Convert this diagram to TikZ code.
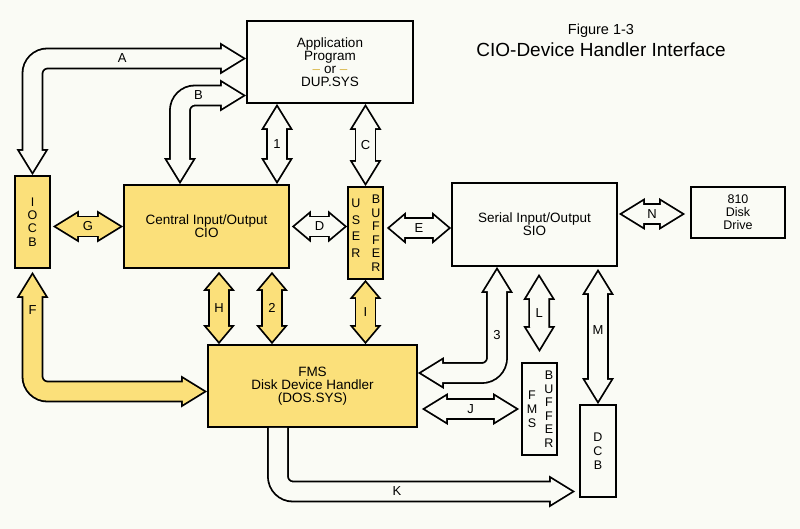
\documentclass[tikz,border=0pt]{standalone}
\usepackage{fontspec}
\setmainfont{Liberation Sans}
\usepackage{xcolor}
\usetikzlibrary{arrows.meta,calc}

\definecolor{paper}{HTML}{FAFBF5}
\definecolor{cioyellow}{HTML}{FBE07A}
\definecolor{dashyellow}{HTML}{D9B84C}

\tikzset{
  headout/.tip={Triangle[length=26pt, width=32pt, line width=0pt]},
  headin/.tip={Triangle[length=20.77pt, width=25.56pt, line width=0pt]},
  shortout/.tip={Triangle[length=19pt, width=32pt, line width=0pt]},
  shortin/.tip={Triangle[length=14.4pt, width=24.25pt, line width=0pt]},
}

\begin{document}
\begin{tikzpicture}[x=1pt, y=-1pt,
  box/.style={rectangle, draw, line width=1.8pt, fill=paper, align=center, inner sep=0pt, font=\fontsize{13.5}{13}\selectfont},
  ybox/.style={box, fill=cioyellow},
  letters/.style={align=center, inner sep=0pt, font=\fontsize{12.5}{13.5}\selectfont},
  lab/.style={inner sep=0pt, font=\fontsize{13}{13}\selectfont},
  fatboth/.style={line width=18.2pt, arrows={headin-headin}, shorten <=3.44pt, shorten >=3.44pt,
    preaction={draw=black, line width=21.8pt, arrows={headout-headout}, shorten <=0pt, shorten >=0pt}},
  fatshort/.style={line width=18.2pt, arrows={shortin-shortin}, shorten <=2.8pt, shorten >=2.8pt,
    preaction={draw=black, line width=21.8pt, arrows={shortout-shortout}, shorten <=0pt, shorten >=0pt}},
  fatend/.style={line width=18.2pt, arrows={-headin}, shorten >=3.44pt,
    preaction={draw=black, line width=21.8pt, arrows={-headout}, shorten >=0pt}},
  hollow/.style={draw=paper},
  yfill/.style={draw=cioyellow},
  roundbend/.style={rounded corners=15pt}
]

\useasboundingbox (0,0) rectangle (800,529);
\fill[paper] (0,0) rectangle (800,529);

\node[font=\fontsize{14.5}{15}\selectfont] (fig) at (601,31) {Figure 1-3};
\node[font=\fontsize{19}{20}\selectfont] (title) at (601,50) {CIO-Device Handler Interface};

\node[box, minimum width=166pt, minimum height=82pt] (app) at (330,62) {%
Application\\Program\\{\color{dashyellow}--} or {\color{dashyellow}--}\\DUP.SYS};

\node[ybox, minimum width=35pt, minimum height=92pt, font=\fontsize{12.5}{13.3}\selectfont] (iocb) at (32.5,222) {I\\O\\C\\B};

\node[ybox, minimum width=165pt, minimum height=83pt] (cio) at (206.5,226.5) {Central Input/Output\\CIO};

\node[ybox, minimum width=35pt, minimum height=92pt] (ubuf) at (365.5,233) {};
\node[letters, font=\fontsize{12.5}{16.5}\selectfont] (ubufL) at ($(ubuf.center)+(-9.5,-5)$) {U\\S\\E\\R};
\node[letters] (ubufR) at ($(ubuf.center)+(10.5,0)$) {B\\U\\F\\F\\E\\R};

\node[box, minimum width=165pt, minimum height=83pt] (sio) at (534.5,224.5) {Serial Input/Output\\SIO};

\node[box, minimum width=94pt, minimum height=51pt, font=\fontsize{12.5}{13}\selectfont] (drive) at (738,212.5) {810\\Disk\\Drive};

\node[ybox, minimum width=209pt, minimum height=82pt] (fms) at (312.5,386) {FMS\\Disk Device Handler\\(DOS.SYS)};

\node[box, minimum width=35pt, minimum height=92pt] (fbuf) at (539.5,409) {};
\node[letters, font=\fontsize{12.5}{14}\selectfont] (fbufL) at ($(fbuf.center)+(-7.5,0)$) {F\\M\\S};
\node[letters] (fbufR) at ($(fbuf.center)+(9.5,0)$) {B\\U\\F\\F\\E\\R};

\node[box, minimum width=36pt, minimum height=92pt, font=\fontsize{12.5}{14}\selectfont] (dcb) at (598,451) {D\\C\\B};

\draw[fatboth, hollow, roundbend] (iocb.north) |- node[lab, pos=0.71] {A} ($(app.west)+(0,-3.5)$);
\draw[fatboth, hollow, roundbend] ($(cio.north)+(-26.5,0)$) |- node[lab, pos=0.64] {B} ($(app.west)+(0,33.5)$);
\draw[fatboth, hollow] ($(app.south)+(-53,0)$) -- node[lab] {1} ($(cio.north)+(70.5,0)$);
\draw[fatboth, hollow] ($(app.south)+(35.5,0)$) -- node[lab] {C} (ubuf.north);

\draw[fatboth, yfill] ($(iocb.east |- cio.west)+(2,0)$) -- node[lab] {G} (cio.west);
\draw[fatshort, hollow] ($(cio.east)+(2,0)$) -- node[lab] {D} (ubuf.west |- cio.east);
\draw[fatshort, hollow] ($(ubuf.east)+(3,-5)$) -- node[lab] {E} ($(sio.west)+(0,3.5)$);
\draw[fatboth, hollow] ($(sio.east)+(1,-10.5)$) -- node[lab] {N} ($(drive.west)+(-5,1.5)$);

\draw[fatshort, yfill] ($(cio.south)+(12.5,3)$) -- node[lab] {H} ($(fms.north)+(-93.5,0)$);
\draw[fatshort, yfill] ($(cio.south)+(65.5,3)$) -- node[lab] {2} ($(fms.north)+(-40.5,0)$);
\draw[fatshort, yfill] (ubuf.south) -- node[lab] {I} ($(fms.north)+(53,0)$);

\draw[fatboth, yfill, roundbend] ($(iocb.south)+(0,3)$) |- node[lab, pos=0.16] {F} ($(fms.west)+(0,5.5)$);
\draw[fatboth, hollow, roundbend] ($(sio.south)+(-37.5,0)$) |- node[lab, pos=0.32] {3} ($(fms.east)+(0,-13)$);
\draw[fatboth, hollow] ($(sio.south)+(4.5,7)$) -- node[lab] {L} ($(fbuf.north)+(0,-10)$);
\draw[fatboth, hollow] ($(sio.south -| dcb.north)+(0,2)$) -- node[lab, pos=0.45] {M} (dcb.north);
\draw[fatboth, hollow] ($(fms.east |- fbuf.west)+(4,0)$) -- node[lab] {J} ($(fbuf.west)+(-2,0)$);
\draw[fatend, hollow, roundbend] ($(fms.south)+(-34.5,0)$) |- node[lab, pos=0.70] {K} ($(dcb.west)+(-4,40.5)$);

\end{tikzpicture}
\end{document}
